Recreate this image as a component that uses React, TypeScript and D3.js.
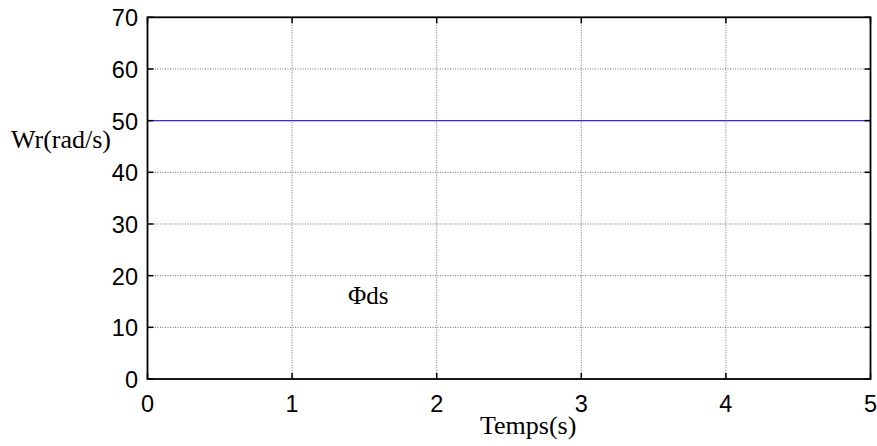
import React from "react";
import * as d3 from "d3";

const timeValues = [0, 1, 2, 3, 4, 5];
const wrValues = [50, 50, 50, 50, 50, 50];
const xTicks = [0, 1, 2, 3, 4, 5];
const yTicks = [0, 10, 20, 30, 40, 50, 60, 70];
const xLabel = "Temps(s)";
const yLabel = "Wr(rad/s)";
const annotation = "Φds";

export default function App() {
  const W = 877, H = 446;
  const left = 147.5, right = 870.5, top = 17.3, bottom = 379;
  const x = d3.scaleLinear().domain([0, 5]).range([left, right]);
  const y = d3.scaleLinear().domain([0, 70]).range([bottom, top]);
  const line = d3.line<number>().x((_, i) => x(timeValues[i])).y((d) => y(d));
  const tl = 6;
  return (
    <svg width={W} height={H} style={{ position: "absolute", left: 0, top: 0, background: "#fff" }}>
      {xTicks.slice(1, -1).map((t) => (
        <line key={"gx" + t} x1={x(t)} x2={x(t)} y1={top} y2={bottom} stroke="#707070" strokeWidth={1} strokeDasharray="1,1.5" />
      ))}
      {yTicks.slice(1, -1).map((t) => (
        <line key={"gy" + t} x1={left} x2={right} y1={y(t)} y2={y(t)} stroke="#707070" strokeWidth={1} strokeDasharray="1,1.5" />
      ))}
      <path d={line(wrValues) || ""} fill="none" stroke="#3030d8" strokeWidth={1.3} />
      {xTicks.map((t) => (
        <g key={"tx" + t}>
          <line x1={x(t)} x2={x(t)} y1={bottom} y2={bottom - tl} stroke="#000" strokeWidth={1.5} />
          <line x1={x(t)} x2={x(t)} y1={top} y2={top + tl} stroke="#000" strokeWidth={1.5} />
          <text x={x(t)} y={411.5} textAnchor="middle" fontFamily="Liberation Sans, Arial, sans-serif" fontSize={23.5} fill="#000">{t}</text>
        </g>
      ))}
      {yTicks.map((t) => (
        <g key={"ty" + t}>
          <line x1={left} x2={left + tl} y1={y(t)} y2={y(t)} stroke="#000" strokeWidth={1.5} />
          <line x1={right} x2={right - tl} y1={y(t)} y2={y(t)} stroke="#000" strokeWidth={1.5} />
          <text x={138} y={y(t) + 9} textAnchor="end" fontFamily="Liberation Sans, Arial, sans-serif" fontSize={23.5} fill="#000">{t}</text>
        </g>
      ))}
      <rect x={left} y={top} width={right - left} height={bottom - top} fill="none" stroke="#000" strokeWidth={1.8} />
      <text x={11} y={148} fontFamily="Liberation Serif, Times New Roman, serif" fontSize={26} fill="#000">{yLabel}</text>
      <text x={480} y={434} fontFamily="Liberation Serif, Times New Roman, serif" fontSize={26} fill="#000">{xLabel}</text>
      <text x={348} y={304} fontFamily="Liberation Serif, Times New Roman, serif" fontSize={25} fill="#000">{annotation}</text>
    </svg>
  );
}
